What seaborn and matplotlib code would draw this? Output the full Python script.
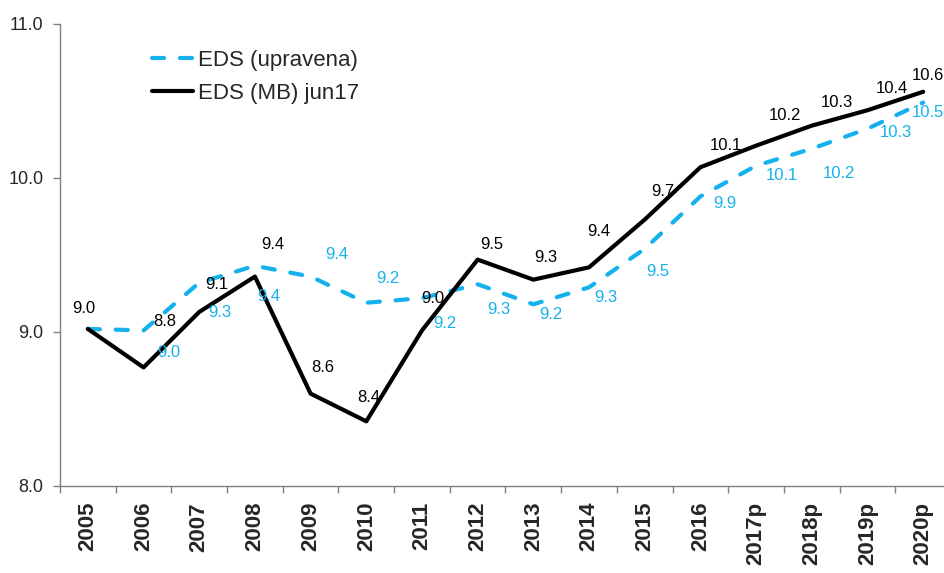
import matplotlib
matplotlib.use('Agg')
import numpy as np
import pandas as pd
import matplotlib.pyplot as plt
import seaborn as sns
from matplotlib.lines import Line2D
from matplotlib.ticker import FixedLocator, FormatStrFormatter

# Data
years = ['2005', '2006', '2007', '2008', '2009', '2010', '2011', '2012',
         '2013', '2014', '2015', '2016', '2017p', '2018p', '2019p', '2020p']
eds_upravena = [9.02, 9.01, 9.32, 9.43, 9.36, 9.19, 9.22, 9.31,
                9.18, 9.29, 9.54, 9.88, 10.08, 10.19, 10.32, 10.49]
eds_mb = [9.02, 8.77, 9.13, 9.36, 8.60, 8.42, 9.01, 9.47,
          9.34, 9.42, 9.73, 10.07, 10.21, 10.34, 10.44, 10.56]
series_names = ['EDS (upravena)', 'EDS (MB) jun17']

# label offsets in pixels (dx right, dy down), None = no label
mb_offsets = [(-4, -20), (21, -46), (18, -27), (18, -32), (12, -26), (2, -24),
              (11, -32), (14, -15), (12, -22), (10, -36), (18, -28), (25, -22),
              (29, -30), (25, -23), (24, -22), (5, -16)]
up_offsets = [None, (25, 22), (21, 30), (14, 31), (26, -22), (22, -24),
              (23, 25), (21, 25), (18, 10), (17, 10), (13, 23), (24, 7),
              (26, 10), (27, 25), (28, 4), (5, 10)]

BLUE = '#14b1ec'
BLACK = '#000000'
GREY = '#808080'

df = pd.DataFrame({
    'year': years * 2,
    'value': eds_upravena + eds_mb,
    'series': [series_names[0]] * len(years) + [series_names[1]] * len(years),
})

sns.set_theme(style='white')
plt.rcParams['font.family'] = ['Liberation Sans', 'DejaVu Sans']

fig = plt.figure(figsize=(9.45, 5.73), dpi=100)
ax = fig.add_axes([60 / 945, 87 / 573, 891 / 945, 462 / 573])

dash_up = (2.9, 3.8)
sns.lineplot(data=df, x='year', y='value', hue='series', style='series',
             hue_order=series_names, style_order=series_names,
             palette={series_names[0]: BLUE, series_names[1]: BLACK},
             dashes={series_names[0]: dash_up, series_names[1]: ''},
             linewidth=3, sort=False, legend=False, ax=ax)
for ln in ax.get_lines():
    ln.set_dash_capstyle('round')

# data labels
for i, (v, off) in enumerate(zip(eds_mb, mb_offsets)):
    ax.annotate(f'{v:.1f}', (i, v), xytext=(off[0], -off[1]),
                textcoords='offset pixels', ha='center', va='center',
                fontsize=12, color=BLACK)
for i, (v, off) in enumerate(zip(eds_upravena, up_offsets)):
    if off is None:
        continue
    ax.annotate(f'{v:.1f}', (i, v), xytext=(off[0], -off[1]),
                textcoords='offset pixels', ha='center', va='center',
                fontsize=12, color=BLUE, annotation_clip=False)

# axes styling
ax.set_xlim(-0.5, len(years) - 0.5)
ax.set_ylim(8.0, 11.0)
ax.set_yticks([8.0, 9.0, 10.0, 11.0])
ax.yaxis.set_major_formatter(FormatStrFormatter('%.1f'))
ax.set_xlabel('')
ax.set_ylabel('')

ax.set_xticks(range(len(years)))
ax.set_xticklabels(years, rotation=90, fontsize=16, fontweight='bold')
ax.xaxis.set_minor_locator(FixedLocator(np.arange(-0.5, len(years), 1.0)))
ax.tick_params(axis='x', which='major', length=0, pad=11.5)
ax.tick_params(axis='x', which='minor', length=5, width=1, color=GREY,
               direction='out', bottom=True)
ax.tick_params(axis='y', which='major', length=5, width=1, color=GREY,
               direction='out', left=True, labelsize=13, pad=7)

for side in ['top', 'right']:
    ax.spines[side].set_visible(False)
for side in ['left', 'bottom']:
    ax.spines[side].set_color(GREY)
    ax.spines[side].set_linewidth(1)

handles = [
    Line2D([], [], color=BLUE, lw=3, dashes=dash_up, dash_capstyle='round'),
    Line2D([], [], color=BLACK, lw=3),
]
ax.legend(handles, series_names, loc='upper left',
          bbox_to_anchor=(92 / 891, 436 / 462), frameon=False,
          fontsize=16, handlelength=1.85, handletextpad=0.2,
          labelspacing=0.55, borderpad=0, borderaxespad=0)

fig.savefig('out.png', dpi=100)
